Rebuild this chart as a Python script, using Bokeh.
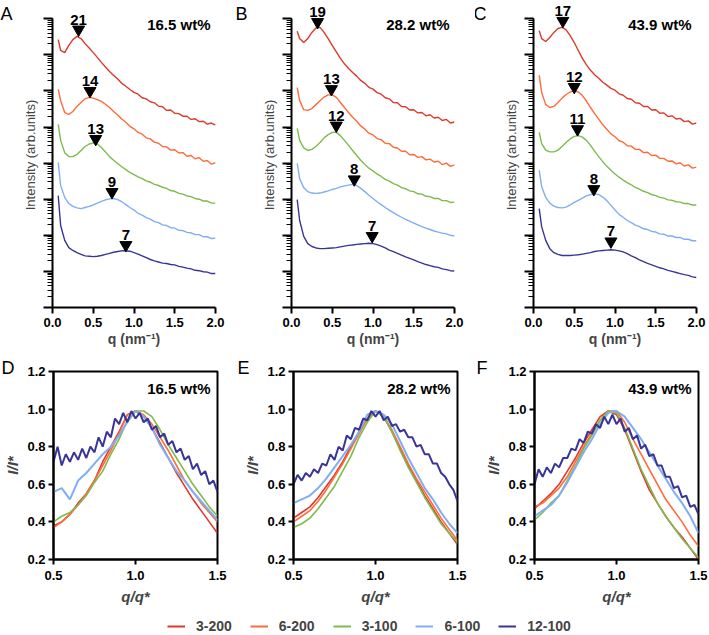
from bokeh.plotting import figure
from bokeh.models import (Range1d, Label, Legend, LegendItem, FixedTicker, NumeralTickFormatter,
                          CustomJSTickFormatter)
from bokeh.layouts import row, column
from bokeh.embed import file_html
from bokeh.resources import INLINE
from bokeh.core.properties import value

FONT = "Liberation Sans"
NARROW = "Liberation Sans Narrow, Liberation Sans"

SERIES = ["3-200", "6-200", "3-100", "6-100", "12-100"]
COLORS = ["#dc3a2c", "#ff6b3b", "#7fba4e", "#80aef2", "#393596"]

# ---------- top panels: q (nm^-1) and log10 intensity (arb. units, offset) ----------
q_top = [0.07, 0.1, 0.15, 0.2, 0.25, 0.3, 0.35, 0.4, 0.45, 0.5, 0.55, 0.6, 0.65, 0.7, 0.75,
         0.8, 0.85, 0.9, 0.95, 1.0, 1.05, 1.1, 1.15, 1.2, 1.25, 1.3, 1.35, 1.4, 1.45, 1.5,
         1.55, 1.6, 1.65, 1.7, 1.75, 1.8, 1.85, 1.9, 1.95, 2.0]

A_3_200 = [7.42, 7.12, 7.06, 7.26, 7.42, 7.51, 7.45, 7.31, 7.19, 7.06, 6.93, 6.79, 6.66, 6.54, 6.43, 6.33, 6.21, 6.13, 6.04, 5.96, 5.91, 5.81, 5.78, 5.70, 5.67, 5.58, 5.56, 5.46, 5.47, 5.38, 5.37, 5.30, 5.30, 5.21, 5.23, 5.15, 5.16, 5.08, 5.11, 5.05]
A_6_200 = [6.04, 5.73, 5.40, 5.35, 5.43, 5.57, 5.68, 5.78, 5.82, 5.80, 5.76, 5.71, 5.63, 5.54, 5.43, 5.33, 5.22, 5.13, 5.02, 4.95, 4.85, 4.80, 4.70, 4.67, 4.58, 4.55, 4.46, 4.45, 4.36, 4.37, 4.28, 4.29, 4.19, 4.21, 4.12, 4.15, 4.05, 4.07, 3.97, 4.01]
A_3_100 = [5.07, 4.63, 4.29, 4.18, 4.18, 4.24, 4.35, 4.46, 4.53, 4.56, 4.53, 4.43, 4.31, 4.18, 4.08, 3.99, 3.90, 3.82, 3.74, 3.68, 3.62, 3.57, 3.51, 3.47, 3.41, 3.38, 3.33, 3.30, 3.24, 3.22, 3.16, 3.14, 3.09, 3.07, 3.02, 3.00, 2.95, 2.95, 2.89, 2.89]
A_6_100 = [4.02, 3.38, 3.05, 2.88, 2.80, 2.76, 2.74, 2.77, 2.80, 2.84, 2.89, 2.94, 2.98, 3.01, 3.02, 2.99, 2.93, 2.85, 2.77, 2.70, 2.61, 2.56, 2.49, 2.45, 2.38, 2.35, 2.29, 2.27, 2.21, 2.20, 2.14, 2.13, 2.08, 2.07, 2.02, 2.02, 1.96, 1.96, 1.91, 1.92]
A_12_100 = [3.10, 2.27, 1.86, 1.66, 1.58, 1.52, 1.47, 1.43, 1.42, 1.41, 1.42, 1.44, 1.47, 1.50, 1.53, 1.55, 1.57, 1.57, 1.56, 1.52, 1.48, 1.43, 1.38, 1.33, 1.29, 1.26, 1.23, 1.22, 1.19, 1.18, 1.14, 1.12, 1.09, 1.07, 1.03, 1.02, 0.99, 0.98, 0.94, 0.94]

B_3_200 = [7.65, 7.45, 7.34, 7.45, 7.62, 7.74, 7.76, 7.62, 7.45, 7.26, 7.08, 6.90, 6.75, 6.62, 6.51, 6.41, 6.29, 6.21, 6.10, 6.05, 5.95, 5.91, 5.81, 5.78, 5.68, 5.67, 5.57, 5.56, 5.47, 5.48, 5.39, 5.40, 5.31, 5.34, 5.25, 5.27, 5.18, 5.21, 5.11, 5.14]
B_6_200 = [6.09, 5.73, 5.48, 5.46, 5.51, 5.62, 5.73, 5.83, 5.89, 5.89, 5.82, 5.68, 5.54, 5.40, 5.27, 5.16, 5.03, 4.94, 4.83, 4.78, 4.68, 4.65, 4.55, 4.54, 4.44, 4.42, 4.33, 4.33, 4.23, 4.24, 4.16, 4.18, 4.09, 4.11, 4.03, 4.05, 3.96, 4.00, 3.91, 3.95]
B_3_100 = [4.96, 4.63, 4.42, 4.35, 4.38, 4.46, 4.57, 4.70, 4.79, 4.85, 4.85, 4.76, 4.63, 4.49, 4.35, 4.21, 4.08, 3.96, 3.86, 3.78, 3.70, 3.63, 3.55, 3.50, 3.43, 3.39, 3.32, 3.29, 3.23, 3.21, 3.15, 3.14, 3.08, 3.07, 3.02, 3.02, 2.96, 2.96, 2.91, 2.92]
B_6_100 = [3.99, 3.57, 3.32, 3.21, 3.17, 3.16, 3.17, 3.20, 3.23, 3.27, 3.30, 3.34, 3.37, 3.39, 3.41, 3.38, 3.30, 3.21, 3.11, 3.02, 2.93, 2.85, 2.77, 2.70, 2.63, 2.56, 2.50, 2.44, 2.39, 2.34, 2.29, 2.24, 2.20, 2.16, 2.12, 2.09, 2.06, 2.04, 2.00, 1.98]
B_12_100 = [2.99, 2.41, 1.97, 1.77, 1.69, 1.65, 1.63, 1.63, 1.64, 1.65, 1.66, 1.68, 1.70, 1.72, 1.73, 1.75, 1.76, 1.77, 1.78, 1.77, 1.74, 1.70, 1.65, 1.59, 1.55, 1.50, 1.45, 1.40, 1.36, 1.32, 1.27, 1.23, 1.19, 1.16, 1.13, 1.11, 1.07, 1.05, 1.02, 1.01]

C_3_200 = [7.67, 7.45, 7.37, 7.48, 7.62, 7.73, 7.76, 7.69, 7.53, 7.34, 7.12, 6.90, 6.72, 6.57, 6.45, 6.35, 6.24, 6.16, 6.07, 6.02, 5.92, 5.88, 5.79, 5.77, 5.67, 5.66, 5.57, 5.57, 5.47, 5.48, 5.38, 5.39, 5.29, 5.31, 5.22, 5.24, 5.15, 5.17, 5.08, 5.11]
C_6_200 = [6.43, 5.96, 5.62, 5.54, 5.57, 5.68, 5.80, 5.90, 5.97, 6.00, 5.97, 5.87, 5.72, 5.54, 5.37, 5.22, 5.06, 4.94, 4.81, 4.73, 4.62, 4.58, 4.48, 4.47, 4.38, 4.38, 4.29, 4.30, 4.21, 4.22, 4.13, 4.13, 4.05, 4.06, 3.98, 4.01, 3.92, 3.95, 3.86, 3.89]
C_3_100 = [4.85, 4.54, 4.36, 4.31, 4.31, 4.36, 4.46, 4.57, 4.67, 4.74, 4.76, 4.72, 4.63, 4.49, 4.33, 4.18, 4.04, 3.91, 3.80, 3.70, 3.61, 3.53, 3.46, 3.40, 3.33, 3.28, 3.22, 3.18, 3.13, 3.10, 3.05, 3.03, 2.98, 2.97, 2.93, 2.92, 2.88, 2.88, 2.84, 2.84]
C_6_100 = [3.80, 3.35, 3.05, 2.89, 2.81, 2.77, 2.76, 2.78, 2.84, 2.91, 2.97, 3.03, 3.09, 3.13, 3.14, 3.13, 3.06, 2.96, 2.83, 2.70, 2.58, 2.50, 2.41, 2.35, 2.28, 2.24, 2.18, 2.16, 2.11, 2.09, 2.04, 2.03, 1.98, 1.98, 1.94, 1.94, 1.89, 1.89, 1.85, 1.85]
C_12_100 = [2.74, 2.24, 1.86, 1.63, 1.52, 1.47, 1.44, 1.44, 1.44, 1.45, 1.46, 1.48, 1.50, 1.52, 1.55, 1.57, 1.58, 1.59, 1.60, 1.59, 1.57, 1.54, 1.49, 1.43, 1.38, 1.32, 1.27, 1.22, 1.18, 1.14, 1.10, 1.07, 1.03, 1.00, 0.97, 0.94, 0.91, 0.89, 0.85, 0.83]

# peak markers (q, log10 I of marker, d-spacing label)
A_pk_q = [0.32, 0.46, 0.53, 0.73, 0.90]
A_pk_log = [7.70, 6.00, 4.67, 3.20, 1.73]
A_pk_d = ["21", "14", "13", "9", "7"]
B_pk_q = [0.32, 0.49, 0.55, 0.77, 0.99]
B_pk_log = [7.91, 6.05, 5.04, 3.55, 1.98]
B_pk_d = ["19", "13", "12", "8", "7"]
C_pk_q = [0.36, 0.50, 0.54, 0.74, 0.95]
C_pk_log = [7.94, 6.11, 4.94, 3.28, 1.83]
C_pk_d = ["17", "12", "11", "8", "7"]

# ---------- bottom panels: q/q* vs I/I* ----------
qn = [0.5, 0.55, 0.6, 0.65, 0.7, 0.75, 0.8, 0.85, 0.9, 0.95, 1.0, 1.05, 1.1, 1.15, 1.2,
      1.25, 1.3, 1.35, 1.4, 1.45, 1.5]
qn_fine = [0.5, 0.525, 0.55, 0.575, 0.6, 0.625, 0.65, 0.675, 0.7, 0.725, 0.75, 0.775, 0.8,
           0.825, 0.85, 0.875, 0.9, 0.925, 0.95, 0.975, 1.0, 1.025, 1.05, 1.075, 1.1, 1.125,
           1.15, 1.175, 1.2, 1.225, 1.25, 1.275, 1.3, 1.325, 1.35, 1.375, 1.4, 1.425, 1.45,
           1.475, 1.5]

D_3_200 = [0.38, 0.40, 0.44, 0.50, 0.55, 0.62, 0.72, 0.80, 0.88, 0.97, 0.99, 0.96, 0.90, 0.82, 0.74, 0.66, 0.59, 0.52, 0.46, 0.40, 0.34]
D_6_200 = [0.37, 0.40, 0.44, 0.49, 0.55, 0.62, 0.70, 0.78, 0.87, 0.97, 0.99, 0.97, 0.92, 0.85, 0.78, 0.70, 0.62, 0.56, 0.50, 0.45, 0.40]
D_3_100 = [0.40, 0.43, 0.45, 0.49, 0.54, 0.61, 0.67, 0.76, 0.84, 0.94, 0.99, 0.99, 0.96, 0.89, 0.81, 0.74, 0.67, 0.60, 0.54, 0.48, 0.43]
D_6_100 = [0.56, 0.58, 0.52, 0.62, 0.66, 0.71, 0.76, 0.80, 0.86, 0.93, 0.99, 0.96, 0.90, 0.81, 0.74, 0.67, 0.62, 0.56, 0.51, 0.46, 0.41]
D_12_100 = [0.72, 0.80, 0.70, 0.76, 0.72, 0.77, 0.73, 0.79, 0.74, 0.80, 0.77, 0.85, 0.80, 0.88, 0.85, 0.95, 0.92, 0.98, 0.93, 0.99, 0.95, 0.98, 0.93, 0.95, 0.89, 0.91, 0.85, 0.87, 0.81, 0.83, 0.77, 0.79, 0.73, 0.75, 0.68, 0.71, 0.65, 0.67, 0.60, 0.62, 0.56]

E_3_200 = [0.42, 0.45, 0.48, 0.53, 0.59, 0.65, 0.72, 0.80, 0.88, 0.95, 0.99, 0.96, 0.88, 0.79, 0.70, 0.62, 0.54, 0.47, 0.40, 0.34, 0.28]
E_6_200 = [0.40, 0.43, 0.46, 0.51, 0.57, 0.64, 0.71, 0.79, 0.87, 0.95, 0.99, 0.96, 0.89, 0.80, 0.71, 0.63, 0.56, 0.49, 0.42, 0.36, 0.30]
E_3_100 = [0.37, 0.39, 0.42, 0.47, 0.53, 0.59, 0.67, 0.75, 0.85, 0.93, 0.99, 0.96, 0.88, 0.78, 0.69, 0.61, 0.53, 0.46, 0.39, 0.34, 0.29]
E_6_100 = [0.50, 0.52, 0.54, 0.58, 0.63, 0.69, 0.75, 0.81, 0.88, 0.97, 0.99, 0.97, 0.92, 0.83, 0.74, 0.66, 0.58, 0.52, 0.45, 0.39, 0.34]
E_12_100 = [0.60, 0.65, 0.62, 0.66, 0.64, 0.68, 0.66, 0.71, 0.70, 0.76, 0.73, 0.80, 0.78, 0.86, 0.84, 0.90, 0.89, 0.95, 0.94, 0.99, 0.96, 0.99, 0.94, 0.96, 0.91, 0.92, 0.88, 0.89, 0.85, 0.85, 0.80, 0.81, 0.76, 0.76, 0.71, 0.71, 0.66, 0.64, 0.60, 0.57, 0.51]

F_3_200 = [0.47, 0.51, 0.55, 0.60, 0.67, 0.74, 0.82, 0.89, 0.96, 0.99, 0.97, 0.89, 0.78, 0.67, 0.57, 0.50, 0.43, 0.37, 0.32, 0.26, 0.20]
F_6_200 = [0.48, 0.50, 0.54, 0.58, 0.64, 0.72, 0.80, 0.87, 0.94, 0.99, 0.99, 0.93, 0.84, 0.76, 0.68, 0.60, 0.52, 0.46, 0.40, 0.33, 0.27]
F_3_100 = [0.41, 0.45, 0.50, 0.54, 0.62, 0.70, 0.79, 0.86, 0.94, 0.99, 0.98, 0.90, 0.79, 0.68, 0.59, 0.50, 0.43, 0.37, 0.31, 0.26, 0.21]
F_6_100 = [0.43, 0.46, 0.49, 0.54, 0.61, 0.69, 0.77, 0.84, 0.92, 0.98, 0.99, 0.96, 0.90, 0.84, 0.77, 0.70, 0.63, 0.56, 0.50, 0.43, 0.34]
F_12_100 = [0.60, 0.68, 0.64, 0.69, 0.66, 0.71, 0.69, 0.74, 0.74, 0.79, 0.78, 0.84, 0.82, 0.88, 0.87, 0.92, 0.90, 0.96, 0.92, 0.97, 0.92, 0.95, 0.88, 0.90, 0.84, 0.86, 0.79, 0.81, 0.75, 0.76, 0.70, 0.70, 0.64, 0.64, 0.58, 0.59, 0.53, 0.54, 0.48, 0.49, 0.44]

y_ticks_bottom = [0.2, 0.4, 0.6, 0.8, 1.0, 1.2]
x_ticks_bottom = [0.5, 1.0, 1.5]
x_ticks_top = [0.0, 0.5, 1.0, 1.5, 2.0]

TOP_H, BOT_H, LEG_H = 351, 261, 23
TOP_FW, TOP_FH = 163, 305
BOT_FW, BOT_FH = 164, 188
BOT_TOP = 20


def style_ticklabels(ax):
    ax.axis_line_width = 2
    ax.major_tick_line_width = 2
    ax.major_label_text_font = NARROW
    ax.major_label_text_font_style = "bold"
    ax.major_label_text_font_size = "13px"
    ax.major_label_text_color = "black"


def add_label(p, x, y, text, size, style, align, place=None):
    lab = Label(x=x, y=y, x_units="screen", y_units="screen", text=text,
                text_font=FONT, text_font_size=size, text_font_style=style,
                text_align=align, text_baseline="middle", text_color="black")
    if place is None:
        p.add_layout(lab)
    else:
        p.add_layout(lab, place)


def top_panel(letter, conc, curves, pk_q, pk_log, pk_d, left, width, letter_x):
    p = figure(width=width, height=TOP_H, x_range=Range1d(0, 2),
               y_range=Range1d(1, 10 ** 8.449), y_axis_type="log",
               output_backend="svg", toolbar_location=None,
               min_border_left=left, min_border_right=width - left - TOP_FW,
               min_border_top=2, min_border_bottom=TOP_H - 2 - TOP_FH)
    p.outline_line_color = None
    p.xgrid.visible = False
    p.ygrid.visible = False
    for ys, c in zip(curves, COLORS):
        p.line(q_top, [10 ** v for v in ys], line_color=c, line_width=1.4)
    pk_y = [10 ** v for v in pk_log]
    p.scatter(pk_q, pk_y, marker="inverted_triangle", size=12, fill_color="black",
              line_color="black")
    p.text(pk_q, pk_y, text=pk_d, text_font=value(FONT), text_font_style="bold",
           text_font_size="15px", text_align="center", text_baseline="bottom",
           y_offset=-5, text_color="black")

    xa = p.xaxis[0]
    style_ticklabels(xa)
    xa.ticker = FixedTicker(ticks=x_ticks_top)
    xa.formatter = NumeralTickFormatter(format="0.0")
    xa.major_tick_out = 6
    xa.major_tick_in = 0
    xa.minor_tick_out = 0
    xa.minor_tick_in = 0
    xa.major_label_standoff = 4
    xa.axis_label = "q (nm\u207b\u00b9)"
    xa.axis_label_text_font = FONT
    xa.axis_label_text_font_style = "bold"
    xa.axis_label_text_font_size = "14px"
    xa.axis_label_standoff = 1

    ya = p.yaxis[0]
    ya.axis_line_width = 2
    ya.major_tick_line_width = 2
    ya.minor_tick_line_width = 1
    ya.ticker.num_minor_ticks = 10
    ya.bounds = (1, 1e8)
    ya.formatter = CustomJSTickFormatter(code="return ''")
    ya.major_label_text_font_size = "1px"
    ya.major_label_standoff = 0
    ya.major_tick_out = 9
    ya.major_tick_in = 0
    ya.minor_tick_out = 5
    ya.minor_tick_in = 0
    ya.axis_label = "Intensity (arb.units)"
    ya.axis_label_text_font = FONT
    ya.axis_label_text_font_style = "normal"
    ya.axis_label_text_font_size = "13px"
    ya.axis_label_standoff = 6

    add_label(p, TOP_FW - 5, TOP_FH - 22, conc, "15px", "bold", "right")
    # panel letter sits in the left side panel (outside the y axis)
    add_label(p, letter_x, TOP_FH - 11, letter, "18px", "normal", "left", place="left")
    return p


def bottom_panel(letter, conc, curves, left, width):
    p = figure(width=width, height=BOT_H, x_range=Range1d(0.5, 1.5),
               y_range=Range1d(0.2, 1.2), output_backend="svg", toolbar_location=None,
               min_border_left=left, min_border_right=width - left - BOT_FW,
               min_border_top=BOT_TOP, min_border_bottom=BOT_H - BOT_TOP - BOT_FH)
    p.outline_line_color = "black"
    p.outline_line_width = 2
    p.xgrid.visible = False
    p.ygrid.visible = False
    for i, (ys, c) in enumerate(zip(curves, COLORS)):
        xs = qn_fine if i == 4 else qn
        p.line(xs, ys, line_color=c, line_width=2.0 if i >= 3 else 1.6)

    xa = p.xaxis[0]
    style_ticklabels(xa)
    xa.ticker = FixedTicker(ticks=x_ticks_bottom)
    xa.formatter = NumeralTickFormatter(format="0.0")
    xa.major_tick_out = 5
    xa.major_tick_in = 0
    xa.minor_tick_out = 0
    xa.minor_tick_in = 0
    xa.major_label_standoff = 6
    xa.axis_label = "q/q*"
    xa.axis_label_text_font = NARROW
    xa.axis_label_text_font_style = "bold italic"
    xa.axis_label_text_font_size = "15px"
    xa.axis_label_standoff = 5

    ya = p.yaxis[0]
    style_ticklabels(ya)
    ya.ticker = FixedTicker(ticks=y_ticks_bottom)
    ya.formatter = NumeralTickFormatter(format="0.0")
    ya.major_tick_out = 5
    ya.major_tick_in = 0
    ya.minor_tick_out = 0
    ya.minor_tick_in = 0
    ya.major_label_standoff = 3
    ya.axis_label = "I/I*"
    ya.axis_label_text_font = NARROW
    ya.axis_label_text_font_style = "bold italic"
    ya.axis_label_text_font_size = "15px"
    ya.axis_label_standoff = 3

    add_label(p, BOT_FW - 7, BOT_FH - 17, conc, "15px", "bold", "right")
    # panel letter sits in the above side panel, just over the frame's top-left corner
    add_label(p, -left + 1, 4, letter, "18px", "normal", "left", place="above")
    return p


pA = top_panel("A", "16.5 wt%", [A_3_200, A_6_200, A_3_100, A_6_100, A_12_100],
               A_pk_q, A_pk_log, A_pk_d, 52, 236, -7)
pB = top_panel("B", "28.2 wt%", [B_3_200, B_6_200, B_3_100, B_6_100, B_12_100],
               B_pk_q, B_pk_log, B_pk_d, 55, 239, -11)
pC = top_panel("C", "43.9 wt%", [C_3_200, C_6_200, C_3_100, C_6_100, C_12_100],
               C_pk_q, C_pk_log, C_pk_d, 58, 234, -14)

pD = bottom_panel("D", "16.5 wt%", [D_3_200, D_6_200, D_3_100, D_6_100, D_12_100], 53, 236)
pE = bottom_panel("E", "28.2 wt%", [E_3_200, E_6_200, E_3_100, E_6_100, E_12_100], 57, 239)
pF = bottom_panel("F", "43.9 wt%", [F_3_200, F_6_200, F_3_100, F_6_100, F_12_100], 59, 234)

# legend strip (curves drawn off-range; only their legend swatches show)
lg = figure(width=709, height=LEG_H, x_range=Range1d(10, 11), y_range=Range1d(0, 1),
            output_backend="svg", toolbar_location=None, min_border=0,
            x_axis_location=None, y_axis_location=None)
lg.outline_line_color = None
lg.xgrid.visible = False
lg.ygrid.visible = False
items = []
for name, c, ys, i in zip(SERIES, COLORS, [D_3_200, D_6_200, D_3_100, D_6_100, D_12_100], range(5)):
    xs = qn_fine if i == 4 else qn
    r = lg.line(xs, ys, line_color=c, line_width=2)
    items.append(LegendItem(label=name, renderers=[r]))
leg = Legend(items=items, orientation="horizontal", location=(167, 1),
             glyph_width=18, glyph_height=14, label_standoff=11, spacing=18,
             padding=0, margin=0, border_line_color=None, background_fill_alpha=0,
             label_text_font=FONT, label_text_font_style="bold",
             label_text_font_size="14px", label_height=14)
lg.add_layout(leg)

layout = column(row(pA, pB, pC), row(pD, pE, pF), lg)

with open("out.html", "w") as f:
    f.write(file_html(layout, INLINE))
